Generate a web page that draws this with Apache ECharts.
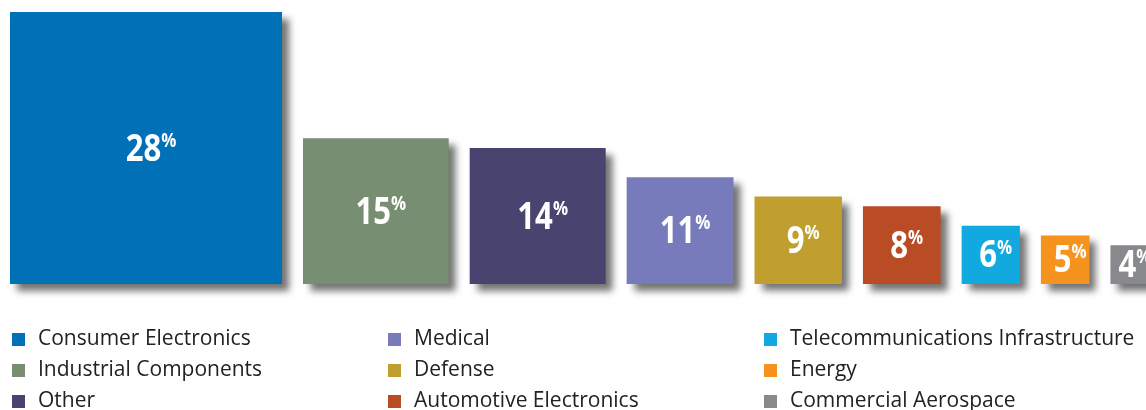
<!DOCTYPE html>
<html>
<head>
<meta charset="utf-8">
<script src="https://cdn.jsdelivr.net/npm/echarts@6/dist/echarts.min.js"></script>
<style>
html,body{margin:0;padding:0;background:#fff;}
#chart{width:1146px;height:410px;}
</style>
</head>
<body>
<div id="chart"></div>
<script>
const categories = ['Consumer Electronics','Industrial Components','Other','Medical','Defense','Automotive Electronics','Telecommunications Infrastructure','Energy','Commercial Aerospace'];
const shares = [28, 15, 14, 11, 9, 8, 6, 5, 4];
const colors = ['#0070b7','#788e72','#48446f','#787bbb','#c09f2e','#b94b25','#12a8e0','#f6921e','#88898c'];
const GAP = 2.16; // gap between squares, in share units

// running left edge of each square, in share units
const starts = [];
shares.reduce((acc, v) => { starts.push(acc); return acc + v + GAP; }, 0);

const chart = echarts.init(document.getElementById('chart'));

function renderItem(params, api) {
  const x0 = api.value(0), v = api.value(1);
  const p = api.coord([x0, 0]);
  const s = api.size([v, v]);
  const color = api.visual('color');
  return {
    type: 'group',
    children: [
      {
        type: 'rect',
        shape: { x: p[0], y: p[1] - s[1], width: s[0], height: s[1] },
        style: { fill: color, shadowBlur: 7, shadowOffsetX: 7, shadowOffsetY: 7, shadowColor: 'rgba(0,0,0,0.55)' }
      },
      {
        type: 'text',
        x: p[0] + s[0] / 2 + 5,
        y: p[1] - s[1] / 2 + 2,
        scaleX: 0.84,
        style: {
          text: '{n|' + v + '}{p|%}',
          align: 'center',
          verticalAlign: 'middle',
          fill: '#fff',
          rich: {
            n: { fontFamily: 'Open Sans', fontWeight: 'bold', fontSize: 37, lineHeight: 38, fill: '#fff' },
            p: { fontFamily: 'Open Sans', fontWeight: 'bold', fontSize: 20, lineHeight: 38, verticalAlign: 'top', padding: [0,0,16,0], fill: '#fff' }
          }
        }
      }
    ]
  };
}

const series = categories.map((name, i) => ({
  name: name,
  type: 'custom',
  renderItem: renderItem,
  itemStyle: { color: colors[i] },
  encode: { x: 0, y: 1 },
  data: [[starts[i], shares[i]]],
  silent: true
}));

function legendCol(names, left) {
  return {
    orient: 'vertical',
    left: left,
    top: 329,
    height: 140,
    padding: 0,
    itemGap: 10,
    itemWidth: 13,
    itemHeight: 13,
    icon: 'rect',
    selectedMode: false,
    data: names,
    textStyle: { fontFamily: 'Open Sans', fontSize: 21, lineHeight: 21, color: '#222', padding: [0, 0, 0, 8] }
  };
}

chart.setOption({
  animation: false,
  backgroundColor: '#fff',
  grid: { left: 10, top: 12, height: 272, width: 120 * 272 / 28, outerBoundsMode: 'none', containLabel: false },
  xAxis: { type: 'value', min: 0, max: 120, show: false },
  yAxis: { type: 'value', min: 0, max: 28, show: false },
  legend: [
    legendCol(categories.slice(0, 3), 12),
    legendCol(categories.slice(3, 6), 388),
    legendCol(categories.slice(6, 9), 764)
  ],
  series: series
});
</script>
</body>
</html>
